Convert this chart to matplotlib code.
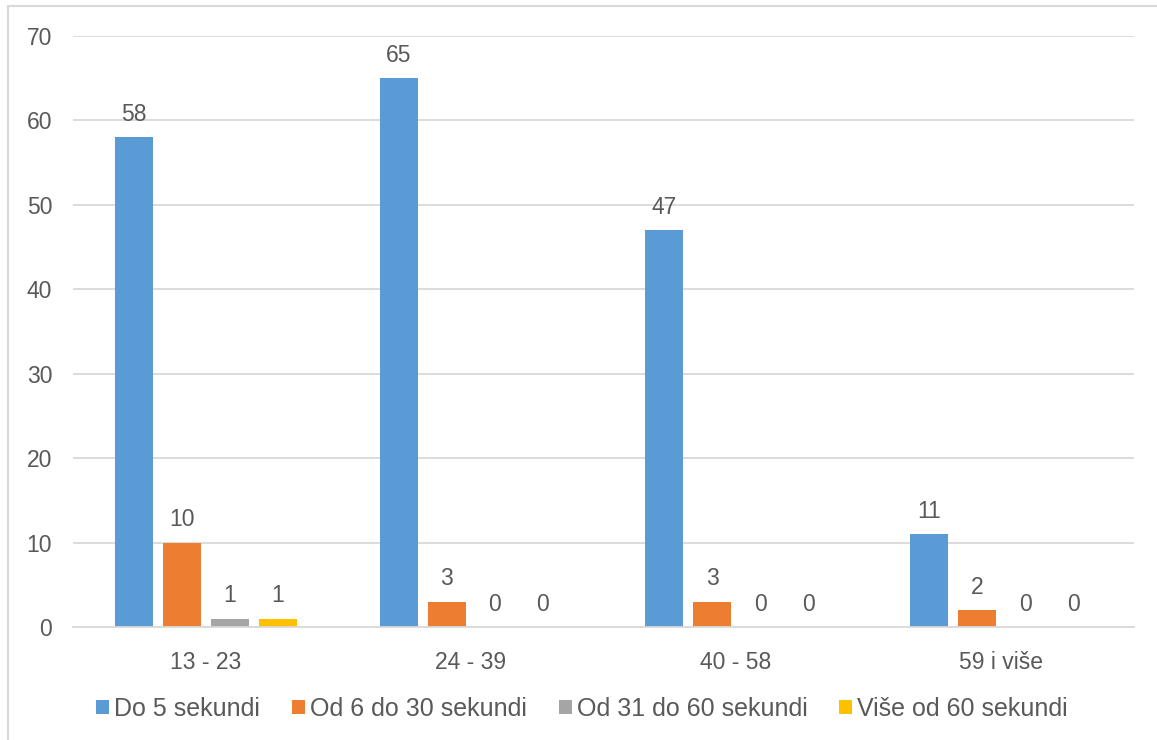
import matplotlib
matplotlib.use("Agg")
import matplotlib.pyplot as plt
import numpy as np
from matplotlib.patches import Rectangle

plt.rcParams['font.family'] = ['Liberation Sans', 'DejaVu Sans']

categories = ["13 - 23", "24 - 39", "40 - 58", "59 i više"]
series_names = ["Do 5 sekundi", "Od 6 do 30 sekundi", "Od 31 do 60 sekundi", "Više od 60 sekundi"]
do5 = [58, 65, 47, 11]
od6_30 = [10, 3, 3, 2]
od31_60 = [1, 0, 0, 0]
vise60 = [1, 0, 0, 0]
colors = ["#5B9BD5", "#ED7D31", "#A5A5A5", "#FFC000"]
yticks = [0, 10, 20, 30, 40, 50, 60, 70]

series = [do5, od6_30, od31_60, vise60]
text_color = "#595959"
grid_color = "#D9D9D9"
fs = 16.5

fig = plt.figure(figsize=(11.57, 7.4), dpi=100)
ax = fig.add_axes([73/1157, 1 - 627/740, (1134-73)/1157, (627-36)/740])

x = np.arange(len(categories))
step = 0.181
width = 0.143
offsets = (np.arange(4) - 1.5) * step
for i, (vals, c) in enumerate(zip(series, colors)):
    ax.bar(x + offsets[i], vals, width, color=c, label=series_names[i], zorder=3)
    for xi, v in zip(x + offsets[i], vals):
        ax.text(xi, v + 1.35, str(v), ha='center', va='bottom', fontsize=fs, color=text_color)

ax.set_xlim(-0.5, 3.5)
ax.set_ylim(0, 70)
ax.set_yticks(yticks)
ax.set_yticklabels([str(t) for t in yticks])
ax.set_xticks(x)
ax.set_xticklabels(categories)
ax.tick_params(axis='both', length=0, labelsize=fs, labelcolor=text_color)
ax.tick_params(axis='y', pad=15)
ax.tick_params(axis='x', pad=17)
ax.grid(axis='y', color=grid_color, linewidth=1.3, zorder=0)
for s in ['left', 'right', 'top']:
    ax.spines[s].set_visible(False)
ax.spines['bottom'].set_color(grid_color)
ax.spines['bottom'].set_linewidth(1.3)
ax.spines['bottom'].set_zorder(4)

fig.legend(loc='center', bbox_to_anchor=(582/1157, 1 - 709/740), ncol=4, frameon=False,
           fontsize=18, handlelength=0.52, handleheight=0.52, handletextpad=0.2,
           columnspacing=1.28, labelcolor=text_color)

# outer border
fig.patches.append(Rectangle((8/1157, -0.01), 1.1, 1 - 6/740 + 0.01, transform=fig.transFigure,
                             fill=False, edgecolor=grid_color, linewidth=1.5))

fig.savefig("out.png", dpi=100)
